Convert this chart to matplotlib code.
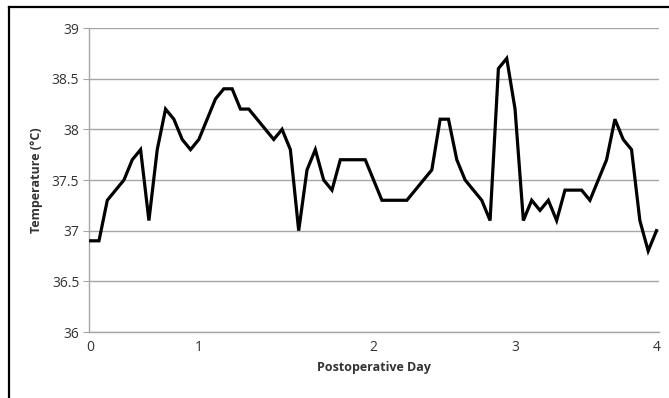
import numpy as np
import matplotlib
matplotlib.use("Agg")
import matplotlib.pyplot as plt
from matplotlib.lines import Line2D

# temperature readings in order of measurement (category axis, like the original)
temps = [36.9, 36.9, 37.3, 37.4, 37.5, 37.7, 37.8, 37.1, 37.8, 38.2,
         38.1, 37.9, 37.8, 37.9, 38.1, 38.3, 38.4, 38.4, 38.2, 38.2,
         38.1, 38.0, 37.9, 38.0, 37.8, 37.0, 37.6, 37.8, 37.5, 37.4,
         37.7, 37.7, 37.7, 37.7, 37.5, 37.3, 37.3, 37.3, 37.3, 37.4,
         37.5, 37.6, 38.1, 38.1, 37.7, 37.5, 37.4, 37.3, 37.1, 38.6,
         38.7, 38.2, 37.1, 37.3, 37.2, 37.3, 37.1, 37.4, 37.4, 37.4,
         37.3, 37.5, 37.7, 38.1, 37.9, 37.8, 37.1, 36.8, 37.0]
# reading index where each postoperative day label sits
day_idx = [0, 13, 34, 51, 68]
day_labels = ['0', '1', '2', '3', '4']
yticks = [36, 36.5, 37, 37.5, 38, 38.5, 39]

plt.rcParams['font.family'] = ['Open Sans', 'DejaVu Sans']

fig = plt.figure(figsize=(6.69, 3.98), dpi=100)
ax = fig.add_axes([89/669, 1 - 332/398, (659 - 89)/669, (332 - 28)/398])

x = np.arange(len(temps))
ax.plot(x, temps, color='black', lw=2.3, solid_joinstyle='miter', zorder=3)

ax.set_xlim(-0.2, 68.3)
ax.set_ylim(36, 39)
ax.set_xticks(day_idx)
ax.set_xticklabels(day_labels)
ax.set_yticks(yticks)
ax.set_yticklabels(['36', '36.5', '37', '37.5', '38', '38.5', '39'])
ax.grid(axis='y', color='#a6a6a6', lw=1.0)
ax.set_axisbelow(True)
for s in ['top', 'right']:
    ax.spines[s].set_visible(False)
for s in ['left', 'bottom']:
    ax.spines[s].set_color('#a6a6a6')
    ax.spines[s].set_linewidth(1.0)
ax.tick_params(axis='y', length=4, color='#a6a6a6', labelsize=10, labelcolor='#333333', pad=3)
ax.tick_params(axis='x', length=0, labelsize=10, labelcolor='#333333', pad=6)

ax.set_xlabel('Postoperative Day', fontsize=9, fontweight='bold', color='#333333', labelpad=4)
ax.set_ylabel('Temperature (°C)', fontsize=9, fontweight='bold', color='#333333', labelpad=6)

# black frame on left and top edges
fig.add_artist(Line2D([8.5/669, 8.5/669], [0, 1 - 6.5/398], color='black', lw=1.6, transform=fig.transFigure))
fig.add_artist(Line2D([8.5/669, 1], [1 - 6.5/398, 1 - 6.5/398], color='black', lw=1.6, transform=fig.transFigure))

fig.savefig('out.png', dpi=100)
